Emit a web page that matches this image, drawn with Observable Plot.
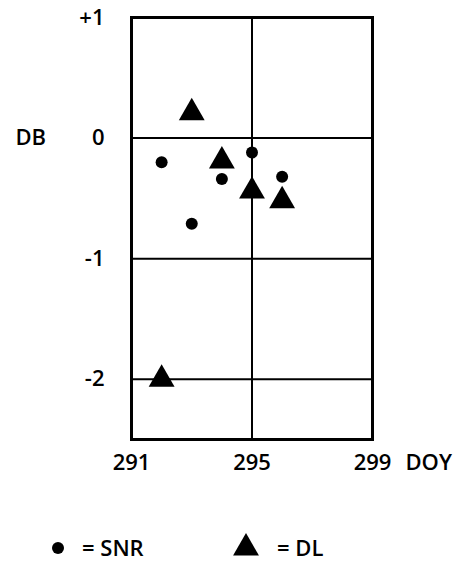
<!DOCTYPE html>
<html>
<head>
<meta charset="utf-8">
<script src="https://cdn.jsdelivr.net/npm/d3@7"></script>
<script src="https://cdn.jsdelivr.net/npm/@observablehq/plot@0.6"></script>
<style>
  html, body { margin: 0; padding: 0; background: white; }
  #wrap { position: relative; width: 460px; height: 565px; overflow: hidden; }
  #legend { position: absolute; left: 0; top: 490px; }
</style>
</head>
<body>
<div id="wrap"></div>
<script>
// SNR series (circles)
const snrDoy = [292, 294, 295, 296, 293];
const snrDb  = [-0.20, -0.34, -0.12, -0.32, -0.71];
// DL series (triangles)
const dlDoy = [293, 294, 295, 296, 292];
const dlDb  = [0.21, -0.19, -0.44, -0.52, -2.0];
// Axis ticks
const xTicks = [291, 295, 299];
const yTicks = [1, 0, -1, -2];
const yTickLabels = ["+1", "0", "-1", "-2"];
const gridY = [0, -1, -2];
const gridX = [295];
const xLabel = "DOY";
const yLabel = "DB";
const legendLabels = ["= SNR", "= DL"];

const snr = snrDoy.map((d, i) => ({doy: d, db: snrDb[i]}));
const dl = dlDoy.map((d, i) => ({doy: d, db: dlDb[i]}));

const font = "'Open Sans', sans-serif";
const fs = 22;

const chart = Plot.plot({
  width: 460,
  height: 490,
  marginLeft: 131,
  marginRight: 88,
  marginTop: 17,
  marginBottom: 51,
  style: {fontFamily: font, fontSize: fs + "px", fontWeight: 600, color: "black", background: "white"},
  x: {domain: [291, 299], ticks: xTicks, tickSize: 0, tickPadding: 15, label: null, tickFormat: d => String(d)},
  y: {domain: [-2.5, 1], ticks: yTicks, tickSize: 0, tickPadding: 27, label: null,
      tickFormat: d => yTickLabels[yTicks.indexOf(d)]},
  marks: [
    Plot.ruleY(gridY, {stroke: "black", strokeWidth: 2}),
    Plot.ruleX(gridX, {stroke: "black", strokeWidth: 2}),
    Plot.frame({stroke: "black", strokeWidth: 3}),
    Plot.dot(snr, {x: "doy", y: "db", r: 6, fill: "black", stroke: "none"}),
    Plot.dot(dl, {x: "doy", y: "db", symbol: "triangle", r: 9.6, fill: "black", stroke: "none"}),
    Plot.text([0], {y: d => d, frameAnchor: "left", text: () => yLabel, textAnchor: "start", dx: -116,
                    fontSize: fs, fontWeight: 600}),
    Plot.text([xTicks[xTicks.length - 1]], {x: d => d, frameAnchor: "bottom", text: () => xLabel,
                    textAnchor: "start", lineAnchor: "top", dx: 33, dy: 15, fontSize: fs, fontWeight: 600})
  ]
});

const wrap = document.getElementById("wrap");
wrap.appendChild(chart);

// Legend below the chart
const ns = "http://www.w3.org/2000/svg";
const leg = document.createElementNS(ns, "svg");
leg.setAttribute("id", "legend");
leg.setAttribute("width", 460);
leg.setAttribute("height", 75);
leg.style.fontFamily = font;
leg.style.fontSize = fs + "px";
leg.style.fontWeight = 600;
const cy = 58;
const c = document.createElementNS(ns, "circle");
c.setAttribute("cx", 58); c.setAttribute("cy", cy); c.setAttribute("r", 6); c.setAttribute("fill", "black");
leg.appendChild(c);
const tri = document.createElementNS(ns, "path");
tri.setAttribute("d", d3.symbol(d3.symbolTriangle, 9.6 * 9.6 * Math.PI)());
tri.setAttribute("transform", `translate(246,${cy})`);
tri.setAttribute("fill", "black");
leg.appendChild(tri);
[[82, legendLabels[0]], [277, legendLabels[1]]].forEach(([x, t]) => {
  const tx = document.createElementNS(ns, "text");
  tx.setAttribute("x", x); tx.setAttribute("y", cy); tx.setAttribute("dy", "0.35em");
  tx.textContent = t;
  leg.appendChild(tx);
});
wrap.appendChild(leg);
</script>
</body>
</html>
